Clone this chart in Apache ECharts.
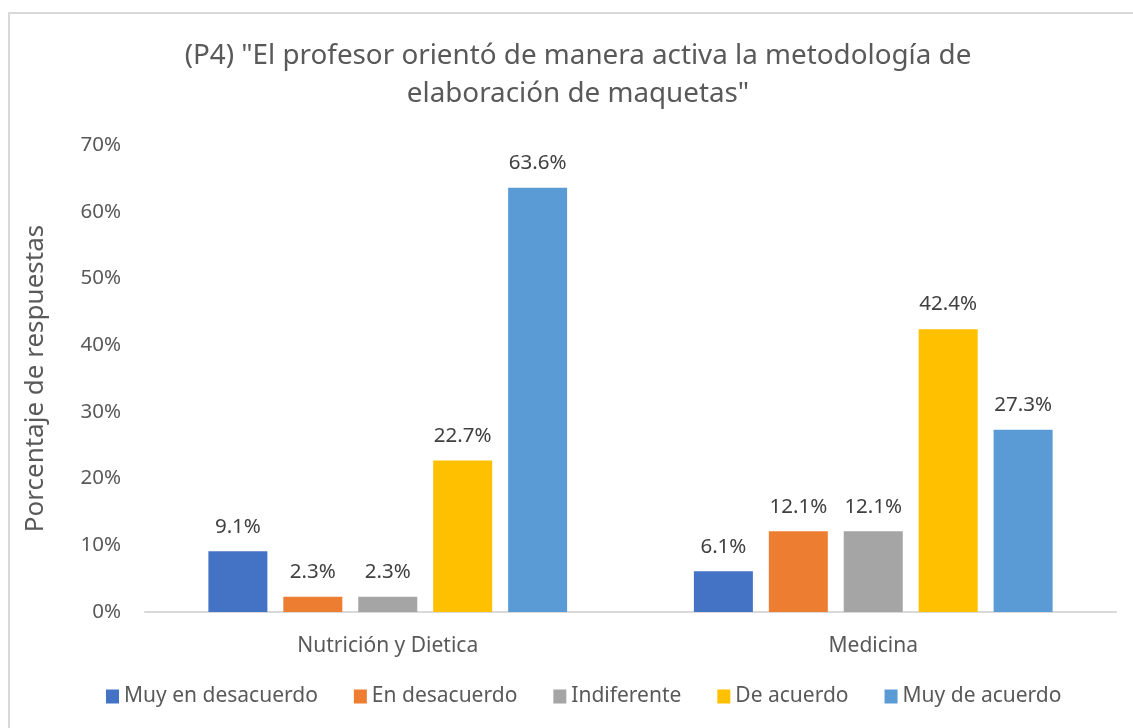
<!DOCTYPE html>
<html>
<head>
<meta charset="utf-8">
<script src="https://cdn.jsdelivr.net/npm/echarts@6/dist/echarts.min.js"></script>
<style>
  html, body { margin: 0; padding: 0; background: #fff; overflow: hidden; }
  #frame {
    position: absolute; left: 8px; top: 12px;
    width: 1200px; height: 800px;
    border: 2px solid #d9d9d9; box-sizing: border-box;
  }
  #chart { position: absolute; left: 0; top: 0; width: 1133px; height: 728px; }
</style>
</head>
<body>
<div id="frame"></div>
<div id="chart"></div>
<script>
const categories = ['Nutrición y Dietica', 'Medicina']
const seriesNames = ['Muy en desacuerdo', 'En desacuerdo', 'Indiferente', 'De acuerdo', 'Muy de acuerdo']
const muyEnDesacuerdo = [9.1, 6.1]
const enDesacuerdo = [2.3, 12.1]
const indiferente = [2.3, 12.1]
const deAcuerdo = [22.7, 42.4]
const muyDeAcuerdo = [63.6, 27.3]
const colors = ['#4472C4', '#ED7D31', '#A5A5A5', '#FFC000', '#5B9BD5']

const values = [muyEnDesacuerdo, enDesacuerdo, indiferente, deAcuerdo, muyDeAcuerdo]
const font = 'Noto Sans'

const chart = echarts.init(document.getElementById('chart'))

const option = {
  color: colors,
  title: {
    text: '(P4) "El profesor orientó de manera activa la metodología de\nelaboración de maquetas"',
    left: 573,
    top: 32,
    textAlign: 'center',
    textStyle: {
      fontFamily: font,
      fontSize: 27.8,
      fontWeight: 'normal',
      color: '#595959',
      lineHeight: 38,
      align: 'center'
    }
  },
  legend: {
    data: seriesNames,
    bottom: 16,
    left: 101,
    itemWidth: 13,
    itemHeight: 14,
    itemGap: 36,
    icon: 'rect',
    textStyle: { fontFamily: font, fontSize: 21, color: '#595959', padding: [0, 0, 0, 0] }
  },
  grid: {
    left: 145,
    right: 17,
    top: 145,
    bottom: 116
  },
  xAxis: {
    type: 'category',
    data: categories,
    axisTick: { show: false },
    axisLine: { lineStyle: { color: '#d9d9d9', width: 2 } },
    axisLabel: { fontFamily: font, fontSize: 21, color: '#595959', margin: 24 }
  },
  yAxis: {
    type: 'value',
    min: 0,
    max: 70,
    interval: 10,
    name: 'Porcentaje de respuestas',
    nameLocation: 'middle',
    nameGap: 96,
    nameTextStyle: { fontFamily: font, fontSize: 26, color: '#595959' },
    splitLine: { show: false },
    axisLine: { show: false },
    axisTick: { show: false },
    axisLabel: {
      fontFamily: font, fontSize: 20.5, color: '#595959', margin: 24,
      formatter: v => v + '%'
    }
  },
  series: seriesNames.map((name, i) => ({
    name: name,
    type: 'bar',
    data: values[i],
    barWidth: 59,
    barGap: '27%',
    label: {
      show: true,
      position: 'top',
      distance: 14,
      fontFamily: font,
      fontSize: 20.5,
      color: '#404040',
      formatter: p => p.value.toFixed(1) + '%'
    }
  }))
}

chart.setOption(option)
</script>
</body>
</html>
